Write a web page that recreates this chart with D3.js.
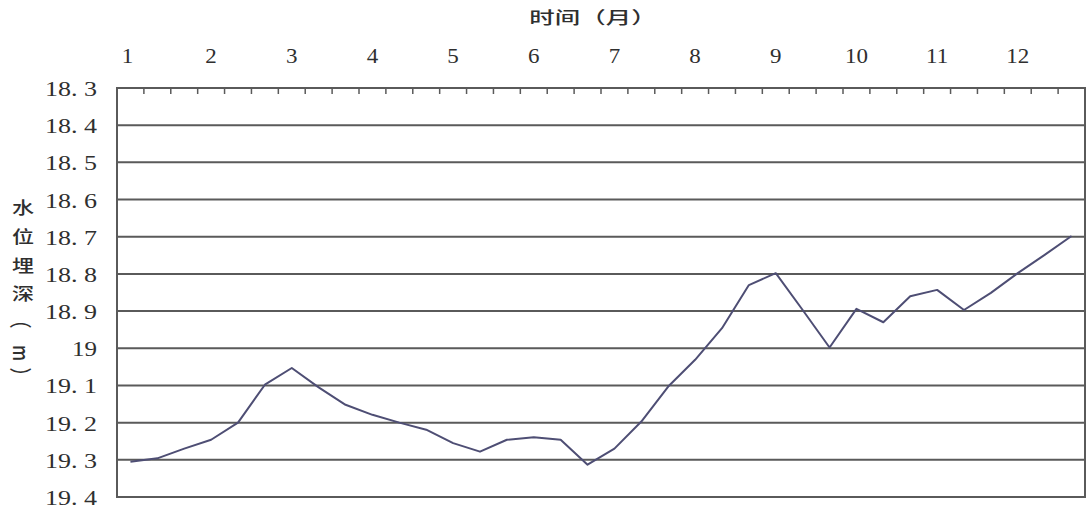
<!DOCTYPE html>
<html><head><meta charset="utf-8">
<script src="https://cdn.jsdelivr.net/npm/d3@7"></script>
<style>body{margin:0;background:#fff;overflow:hidden} svg{display:block}</style>
</head><body>
<script>
// 36 ten-day periods (旬), 3 per month
const periods = d3.range(1, 37);
const monthLabels = ["1","2","3","4","5","6","7","8","9","10","11","12"];
const depth = [19.305, 19.296, 19.27, 19.246, 19.20, 19.098, 19.053, 19.105, 19.152, 19.179,
               19.20, 19.219, 19.255, 19.278, 19.246, 19.239, 19.246, 19.313, 19.27, 19.197,
               19.103, 19.031, 18.946, 18.83, 18.798, 18.897, 18.998, 18.894, 18.93, 18.86,
               18.843, 18.897, 18.851, 18.798, 18.749, 18.698];
const yTicks = [18.3, 18.4, 18.5, 18.6, 18.7, 18.8, 18.9, 19.0, 19.1, 19.2, 19.3, 19.4];
const yTickLabels = ["18. 3","18. 4","18. 5","18. 6","18. 7","18. 8","18. 9","19","19. 1","19. 2","19. 3","19. 4"];
const xTitle = "时间（月）";
const yTitleChars = ["水","位","埋","深","（","m","）"];

const W = 1088, H = 513;
const L = 117, R = 1085, T = 88, B = 497;

const svg = d3.select("body").append("svg").attr("width", W).attr("height", H);

const x = d3.scaleBand().domain(periods).range([L, R]).padding(0);
const y = d3.scaleLinear().domain([18.3, 19.4]).range([T, B]);
const bw = x.bandwidth();

const gridColor = "#5a5a5a";
const textColor = "#2f2f2f";
const serif = "'Liberation Serif', 'DejaVu Serif', serif";

// gridlines
svg.append("g").selectAll("line").data(yTicks.slice(1, -1)).join("line")
  .attr("x1", L).attr("x2", R)
  .attr("y1", d => y(d)).attr("y2", d => y(d))
  .attr("stroke", gridColor).attr("stroke-width", 2);

// frame
svg.append("rect").attr("x", L).attr("y", T).attr("width", R - L).attr("height", B - T)
  .attr("fill", "none").attr("stroke", gridColor).attr("stroke-width", 2);

// top axis ticks (inside, at period boundaries)
svg.append("g").selectAll("line").data(periods.slice(1)).join("line")
  .attr("x1", d => x(d)).attr("x2", d => x(d))
  .attr("y1", T).attr("y2", T + 6)
  .attr("stroke", gridColor).attr("stroke-width", 1.5);

function stretched(g, tx, ty, txt, opts) {
  const gg = g.append("g").attr("transform", `translate(${tx},${ty}) scale(${opts.sx},1)`);
  const t = gg.append("text").text(txt)
    .attr("text-anchor", opts.anchor || "middle")
    .attr("dominant-baseline", "central")
    .attr("font-family", opts.font)
    .attr("font-size", opts.size)
    .attr("font-weight", opts.weight || "normal")
    .attr("fill", textColor);
  if (opts.rotate) t.attr("transform", `rotate(${opts.rotate})`);
  return t;
}

// month labels
const lab = svg.append("g");
monthLabels.forEach((m, i) => {
  const p = periods[i * 3];
  stretched(lab, x(p) + bw / 2 - (i === 0 ? 3 : 0), 57, m, {sx: 1.15, font: serif, size: 20});
});

// y tick labels
yTicks.forEach((v, i) => {
  svg.append("text").text(yTickLabels[i])
    .attr("x", 97).attr("y", y(v) + 1)
    .attr("text-anchor", "end").attr("dominant-baseline", "central")
    .attr("font-family", serif).attr("font-size", 20)
    .attr("fill", textColor)
    .attr("textLength", yTickLabels[i].length > 2 ? 52 : 25)
    .attr("lengthAdjust", "spacingAndGlyphs");
});

// x title
stretched(svg, 593, 17, xTitle, {sx: 1.5, font: "Noto Sans CJK SC", size: 17, weight: 500});

// y title (vertical)
const yPos = [207, 236, 265, 293, 320, 353, 376];
yTitleChars.forEach((c, i) => {
  const rot = (c === "（" || c === "）" || c === "m") ? 90 : 0;
  stretched(svg, 23, yPos[i], c, {sx: 1.3, font: "Noto Sans CJK SC", size: 17, weight: 500, rotate: rot});
});

// data line
const line = d3.line().x((d, i) => x(periods[i]) + bw / 2).y(d => y(d));
svg.append("path").datum(depth).attr("d", line)
  .attr("fill", "none").attr("stroke", "#4e4e74").attr("stroke-width", 2)
  .attr("stroke-linejoin", "round");
</script>
</body></html>
